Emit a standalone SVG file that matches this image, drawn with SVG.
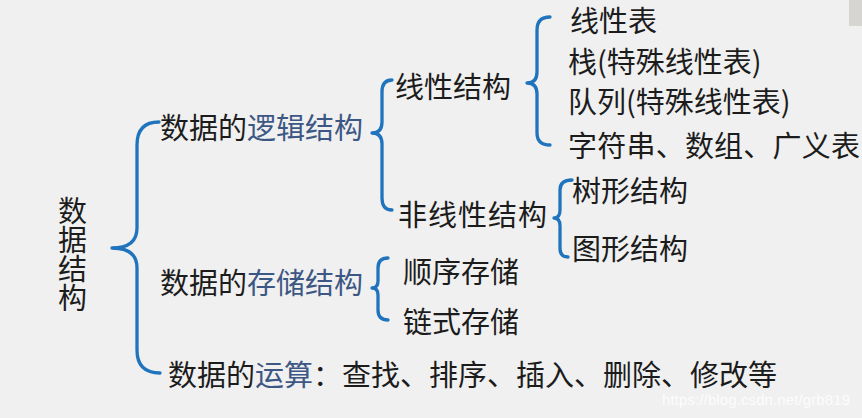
<svg xmlns="http://www.w3.org/2000/svg" width="862" height="418" viewBox="0 0 862 418">
<style>
text{font-family:"Noto Sans CJK SC","Noto Sans",sans-serif;font-size:29px;fill:#1c1c1c}
.b{fill:#3d5785}
.br{fill:none;stroke:#1f74bd;stroke-width:3.3;stroke-linecap:round;stroke-linejoin:round}
.wm{font-family:"Liberation Sans",Arial,sans-serif;font-size:15px;fill:#ffffff;fill-opacity:0.85}
</style>
<rect width="862" height="418" fill="#f0f0f0"/>
<rect x="849" y="0" width="13" height="26" fill="#d7d5d1"/>
<g id="connectors">
<path class="br" d="M159,122 Q137,122 137,145 L137,228 Q137,248 112,248 Q137,248 137,268 L137,350 Q137,373 160,373"/>
<path class="br" d="M392,80 Q382,80 382,92 L382,122 Q382,133 372,133 Q382,133 382,144 L382,198 Q382,210 392,210"/>
<path class="br" d="M550,17 Q537,17 537,30 L537,72 Q537,83 527,83 Q537,83 537,94 L537,133 Q537,145 550,145"/>
<path class="br" d="M572,180 Q560,180 560,190 L560,210 Q560,218 554,218 Q560,218 560,226 L560,248 Q560,257 568,257"/>
<path class="br" d="M388,258 Q378,258 378,268 L378,281 Q378,288 372,288 Q378,288 378,295 L378,310 Q378,320 388,320"/>
</g>
<g id="root"><text x="72.5" y="196" writing-mode="vertical-rl" textLength="116">数据结构</text></g>
<g id="logical"><text x="160" y="139">数据的<tspan class="b">逻辑结构</tspan></text></g>
<g id="storage"><text x="160" y="294">数据的<tspan class="b">存储结构</tspan></text></g>
<g id="ops"><text x="168" y="386" textLength="609">数据的<tspan class="b">运算</tspan>：查找、排序、插入、删除、修改等</text></g>
<g id="linear"><text x="395" y="98">线性结构</text></g>
<g id="nonlinear"><text x="398" y="226" textLength="149">非线性结构</text></g>
<g id="l1"><text x="570" y="32">线性表</text></g>
<g id="l2"><text x="568" y="73">栈(特殊线性表)</text></g>
<g id="l3"><text x="568" y="113">队列(特殊线性表)</text></g>
<g id="l4"><text x="568" y="157" textLength="292">字符串、数组、广义表</text></g>
<g id="tree"><text x="572" y="202">树形结构</text></g>
<g id="graph"><text x="572" y="260">图形结构</text></g>
<g id="seq"><text x="403" y="283">顺序存储</text></g>
<g id="link"><text x="403" y="333">链式存储</text></g>
<text class="wm" x="662" y="405" textLength="188">https://blog.csdn.net/grb819</text>
</svg>
